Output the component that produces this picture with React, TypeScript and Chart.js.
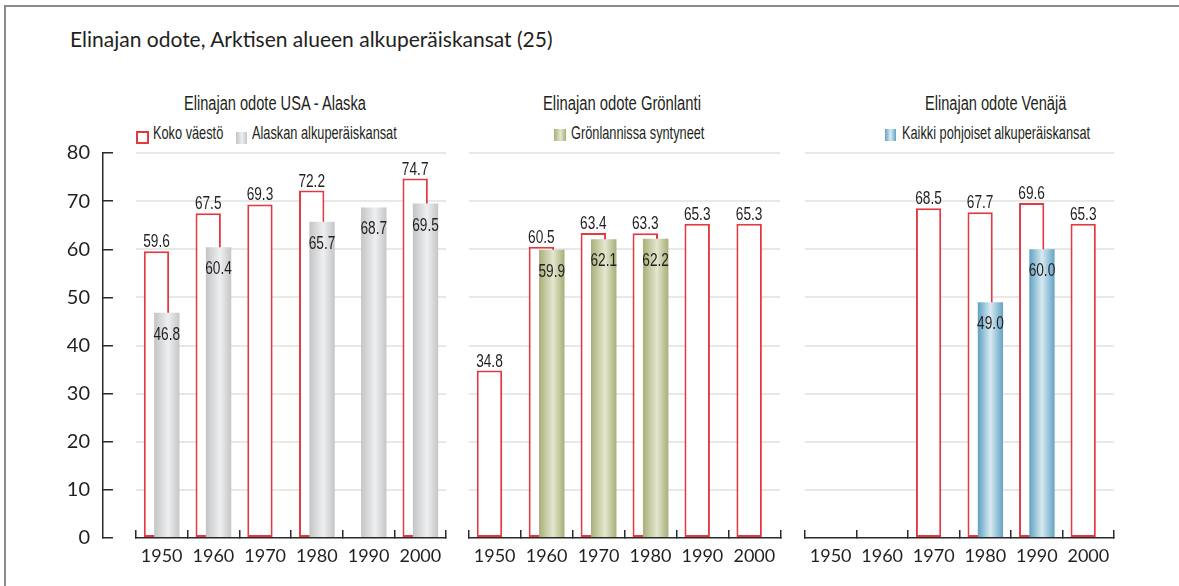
import React, { useEffect, useRef } from 'react';
import { Chart, registerables } from 'chart.js';

Chart.register(...registerables);

// ---------- data ----------
const YEARS = ['1950', '1960', '1970', '1980', '1990', '2000'];
const Y_MIN = 0;
const Y_MAX = 80;
const Y_STEP = 10;

const ALASKA_TOTAL = [59.6, 67.5, 69.3, 72.2, null, 74.7];
const ALASKA_NATIVE = [46.8, 60.4, null, 65.7, 68.7, 69.5];
const GREENLAND_TOTAL = [34.8, 60.5, 63.4, 63.3, 65.3, 65.3];
const GREENLAND_BORN = [null, 59.9, 62.1, 62.2, null, null];
const RUSSIA_TOTAL = [null, null, 68.5, 67.7, 69.6, 65.3];
const RUSSIA_NATIVE = [null, null, null, 49.0, 60.0, null];

const TITLE = 'Elinajan odote, Arktisen alueen alkuperäiskansat (25)';
const LABEL_TOTAL = 'Koko väestö';

// ---------- styles ----------
const RED = '#e23a40';
const TEXT = '#231f20';
const AXIS = '#2a2a2a';
const GRID = '#e8e8e8';
const GRAY_STOPS: [number, string][] = [[0, '#c3c4c6'], [0.55, '#eeeff0'], [1, '#c5c6c8']];
const GREEN_STOPS: [number, string][] = [[0, '#a8af78'], [0.55, '#e4e7cf'], [1, '#a7ae77']];
const BLUE_STOPS: [number, string][] = [[0, '#5ea2c3'], [0.5, '#d8e9f1'], [1, '#62a4c4']];

const CANVAS_TOP = 140;
const CANVAS_H = 446;
const PAD_TOP = 13;
const PAD_BOTTOM = 8;
const X_AXIS_H = 40;
const Y_CANVAS_TOP = 118;
const Y_CANVAS_H = 468;

const layerPlugin = {
  id: 'layerAndGradient',
  beforeDatasetsDraw(chart: any) {
    const ctx = chart.ctx;
    chart.data.datasets.forEach((ds: any, di: number) => {
      if (!ds.gradientStops) return;
      const meta = chart.getDatasetMeta(di);
      meta.data.forEach((el: any, i: number) => {
        if (ds.data[i] == null) return;
        const half = el.width / 2;
        if (!isFinite(el.x) || !isFinite(half)) return;
        const g = ctx.createLinearGradient(el.x - half, 0, el.x + half, 0);
        ds.gradientStops.forEach(([o, c]: [number, string]) => g.addColorStop(o, c));
        el.options.backgroundColor = g;
      });
    });
    chart.data.datasets.forEach((ds: any, di: number) => {
      if (ds.drawFirst) chart.getDatasetMeta(di).controller.draw();
    });
  },
  beforeDatasetDraw(chart: any, args: any) {
    if (chart.data.datasets[args.index].drawFirst) return false;
    return true;
  },
};

const labelPlugin = {
  id: 'valueLabels',
  afterDatasetsDraw(chart: any) {
    const ctx = chart.ctx;
    chart.data.datasets.forEach((ds: any, di: number) => {
      if (!ds.labelPos) return;
      const meta = chart.getDatasetMeta(di);
      meta.data.forEach((el: any, i: number) => {
        const v = ds.data[i];
        if (v == null) return;
        const y = ds.labelPos === 'above' ? el.y - 4 : el.y + 27;
        ctx.save();
        ctx.font = '18px "Liberation Sans"';
        ctx.fillStyle = TEXT;
        ctx.textAlign = 'center';
        ctx.textBaseline = 'alphabetic';
        ctx.translate(el.x, y);
        ctx.scale(0.76, 1);
        ctx.fillText(Number(v).toFixed(1), 0, 0);
        ctx.restore();
      });
    });
  },
};

function panelConfig(total: (number | null)[], native: (number | null)[], stops: [number, string][], nativeLabel: string) {
  return {
    type: 'bar',
    data: {
      labels: YEARS,
      datasets: [
        {
          label: LABEL_TOTAL,
          data: total,
          backgroundColor: '#ffffff',
          borderColor: RED,
          borderWidth: 2,
          borderSkipped: false,
          drawFirst: true,
          labelPos: 'above',
        },
        {
          label: nativeLabel,
          data: native,
          backgroundColor: () => stops[1][1],
          borderWidth: 0,
          gradientStops: stops,
          labelPos: 'inside',
        },
      ],
    },
    options: {
      responsive: false,
      animation: false,
      devicePixelRatio: 1,
      events: [],
      categoryPercentage: 0.4,
      barPercentage: 2.45,
      layout: { padding: { left: 10, right: 10, top: PAD_TOP, bottom: PAD_BOTTOM } },
      plugins: { legend: { display: false }, title: { display: false }, tooltip: { enabled: false } },
      scales: {
        x: {
          type: 'category',
          offset: true,
          grid: { offset: true, drawOnChartArea: false, drawTicks: true, tickLength: -8, color: AXIS, lineWidth: 1.5 },
          border: { display: true, color: AXIS, width: 1.5 },
          ticks: { color: TEXT, font: { family: 'Lato', size: 18 }, padding: 15, maxRotation: 0, autoSkip: false },
          afterFit: (s: any) => { s.height = X_AXIS_H; },
        },
        y: {
          min: Y_MIN,
          max: Y_MAX,
          ticks: { display: false, stepSize: Y_STEP },
          border: { display: false },
          grid: {
            drawTicks: false,
            lineWidth: 2,
            color: (c: any) => (c.tick && c.tick.value === 0 ? 'rgba(0,0,0,0)' : GRID),
          },
          afterFit: (s: any) => { s.width = 0; },
        },
      },
    },
    plugins: [layerPlugin, labelPlugin],
  };
}

function yAxisConfig() {
  return {
    type: 'bar',
    data: { labels: [], datasets: [] },
    options: {
      responsive: false,
      animation: false,
      devicePixelRatio: 1,
      events: [],
      layout: { padding: { left: 8, right: 5, top: 0, bottom: PAD_BOTTOM + X_AXIS_H } },
      plugins: { legend: { display: false }, title: { display: false }, tooltip: { enabled: false } },
      scales: {
        x: { display: false },
        y: {
          min: Y_MIN,
          max: Y_MAX,
          ticks: { stepSize: Y_STEP, color: TEXT, font: { family: 'Lato', size: 20 }, padding: 23 },
          border: { display: true, color: AXIS, width: 1.5 },
          grid: { drawOnChartArea: false, drawTicks: true, tickLength: -10, color: AXIS, lineWidth: 1.5 },
          afterFit: (s: any) => { s.width = 55; },
        },
      },
    },
  };
}

function ChartCanvas({ left, top, width, height, make }: { left: number; top: number; width: number; height: number; make: () => any }) {
  const ref = useRef<HTMLCanvasElement | null>(null);
  useEffect(() => {
    if (!ref.current) return;
    const chart = new Chart(ref.current, make());
    return () => chart.destroy();
  }, []);
  return (
    <canvas
      ref={ref}
      width={width}
      height={height}
      style={{ position: 'absolute', left, top, width, height }}
    />
  );
}

const condensed = (left: number, top: number, size: number, scale: number, text: string) => (
  <span
    style={{
      position: 'absolute',
      left,
      top,
      fontFamily: '"Liberation Sans", Arial, sans-serif',
      fontSize: size,
      lineHeight: `${size}px`,
      color: TEXT,
      whiteSpace: 'nowrap',
      transform: `scaleX(${scale})`,
      transformOrigin: 'left top',
    }}
  >
    {text}
  </span>
);

const swatch = (left: number, top: number, w: number, h: number, stops: [number, string][]) => (
  <div
    style={{
      position: 'absolute',
      left,
      top,
      width: w,
      height: h,
      background: `linear-gradient(to right, ${stops.map(([o, c]) => `${c} ${o * 100}%`).join(', ')})`,
    }}
  />
);

export default function App() {
  return (
    <div style={{ position: 'absolute', left: 0, top: 0, width: 1179, height: 586, overflow: 'hidden', background: '#fff' }}>
      <div style={{ position: 'absolute', left: 4, top: 5, width: 1300, height: 800, borderLeft: '2px solid #8a8a8a', borderTop: '2px solid #8a8a8a' }} />
      <div style={{ position: 'absolute', left: 70, top: 28, fontFamily: 'Lato, sans-serif', fontSize: 21, lineHeight: '21px', color: TEXT, whiteSpace: 'nowrap' }}>
        {TITLE}
      </div>

      {condensed(184, 93, 20, 0.73, 'Elinajan odote USA - Alaska')}
      {condensed(543, 93, 20, 0.74, 'Elinajan odote Grönlanti')}
      {condensed(925, 93, 20, 0.73, 'Elinajan odote Venäjä')}

      <div style={{ position: 'absolute', left: 136, top: 131, width: 13, height: 13, boxSizing: 'border-box', border: `2px solid ${RED}`, background: '#fff' }} />
      {condensed(153, 124, 18.5, 0.69, LABEL_TOTAL)}
      {swatch(236, 132, 11, 12, GRAY_STOPS)}
      {condensed(252, 124, 18.5, 0.69, 'Alaskan alkuperäiskansat')}
      {swatch(554, 129, 12, 12, GREEN_STOPS)}
      {condensed(571, 124, 18.5, 0.69, 'Grönlannissa syntyneet')}
      {swatch(885, 129, 11, 12, BLUE_STOPS)}
      {condensed(902, 124, 18.5, 0.69, 'Kaikki pohjoiset alkuperäiskansat')}

      <ChartCanvas left={40} top={Y_CANVAS_TOP} width={80} height={Y_CANVAS_H} make={yAxisConfig} />
      <ChartCanvas left={125} top={CANVAS_TOP} width={332} height={CANVAS_H} make={() => panelConfig(ALASKA_TOTAL, ALASKA_NATIVE, GRAY_STOPS, 'Alaskan alkuperäiskansat')} />
      <ChartCanvas left={458} top={CANVAS_TOP} width={333} height={CANVAS_H} make={() => panelConfig(GREENLAND_TOTAL, GREENLAND_BORN, GREEN_STOPS, 'Grönlannissa syntyneet')} />
      <ChartCanvas left={794} top={CANVAS_TOP} width={331} height={CANVAS_H} make={() => panelConfig(RUSSIA_TOTAL, RUSSIA_NATIVE, BLUE_STOPS, 'Kaikki pohjoiset alkuperäiskansat')} />
    </div>
  );
}
